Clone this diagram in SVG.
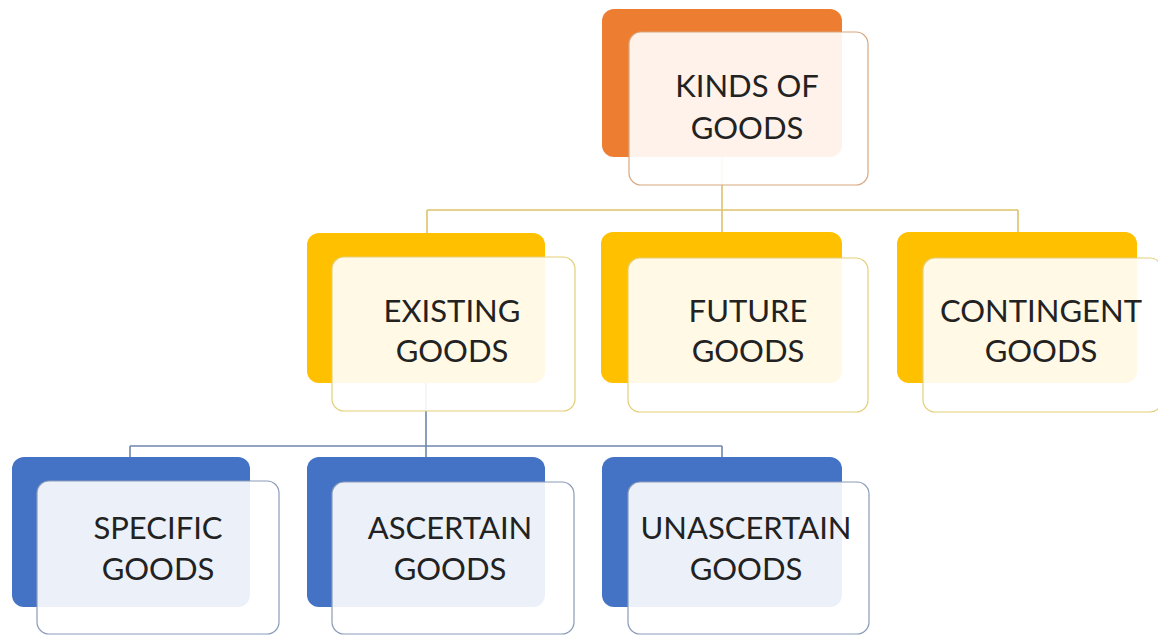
<svg xmlns="http://www.w3.org/2000/svg" width="1158" height="635" viewBox="0 0 1158 635">
<style>
.back{stroke:none}
.or{fill:#ED7D31}
.ye{fill:#FFC000}
.bl{fill:#4472C4}
.front{fill:#ffffff;fill-opacity:0.9;stroke-width:1.2}
.fo{stroke:#D9A77E}
.fy{stroke:#E3CF78}
.fb{stroke:#8A9BB8}
.lbl{font-family:Lato,"Open Sans","Liberation Sans",sans-serif;font-size:31px;fill:#222222;text-anchor:middle}
.cy{fill:none;stroke:#DCC36A;stroke-width:1.6}
.cb{fill:none;stroke:#6F86AC;stroke-width:1.6}
</style>
<rect width="1158" height="635" fill="#ffffff"/>
<g id="connectors">
<path class="cy" d="M722 157 V210 M427 210 H1018 M427 210 V233 M722 210 V232 M1018 210 V232"/>
<path class="cb" d="M426 383 V446 M130 446 H722 M130 446 V457 M426 446 V457 M722 446 V457"/>
</g>
<g id="kinds">
<rect class="back or" x="602" y="9" width="240" height="148" rx="12"/>
<rect class="front fo" x="629" y="32" width="239" height="153" rx="12"/>
<text class="lbl" x="747" y="97">KINDS OF</text>
<text class="lbl" x="747" y="139">GOODS</text>
</g>
<g id="existing">
<rect class="back ye" x="307" y="233" width="238" height="150" rx="12"/>
<rect class="front fy" x="332" y="257" width="243" height="154" rx="12"/>
<text class="lbl" x="452" y="322">EXISTING</text>
<text class="lbl" x="452" y="362">GOODS</text>
</g>
<g id="future">
<rect class="back ye" x="601" y="232" width="241" height="151" rx="12"/>
<rect class="front fy" x="628" y="258" width="240" height="154" rx="12"/>
<text class="lbl" x="748" y="322">FUTURE</text>
<text class="lbl" x="748" y="362">GOODS</text>
</g>
<g id="contingent">
<rect class="back ye" x="897" y="232" width="240" height="151" rx="12"/>
<rect class="front fy" x="923" y="258" width="239" height="154" rx="12"/>
<text class="lbl" x="1041" y="322">CONTINGENT</text>
<text class="lbl" x="1041" y="362">GOODS</text>
</g>
<g id="specific">
<rect class="back bl" x="12" y="457" width="238" height="150" rx="12"/>
<rect class="front fb" x="37" y="481" width="242" height="153" rx="12"/>
<text class="lbl" x="158" y="539">SPECIFIC</text>
<text class="lbl" x="158" y="580">GOODS</text>
</g>
<g id="ascertain">
<rect class="back bl" x="307" y="457" width="238" height="150" rx="12"/>
<rect class="front fb" x="332" y="482" width="242" height="152" rx="12"/>
<text class="lbl" x="450" y="539">ASCERTAIN</text>
<text class="lbl" x="450" y="580">GOODS</text>
</g>
<g id="unascertain">
<rect class="back bl" x="602" y="457" width="240" height="150" rx="12"/>
<rect class="front fb" x="628" y="482" width="241" height="152" rx="12"/>
<text class="lbl" x="746" y="539">UNASCERTAIN</text>
<text class="lbl" x="746" y="580">GOODS</text>
</g>
</svg>
